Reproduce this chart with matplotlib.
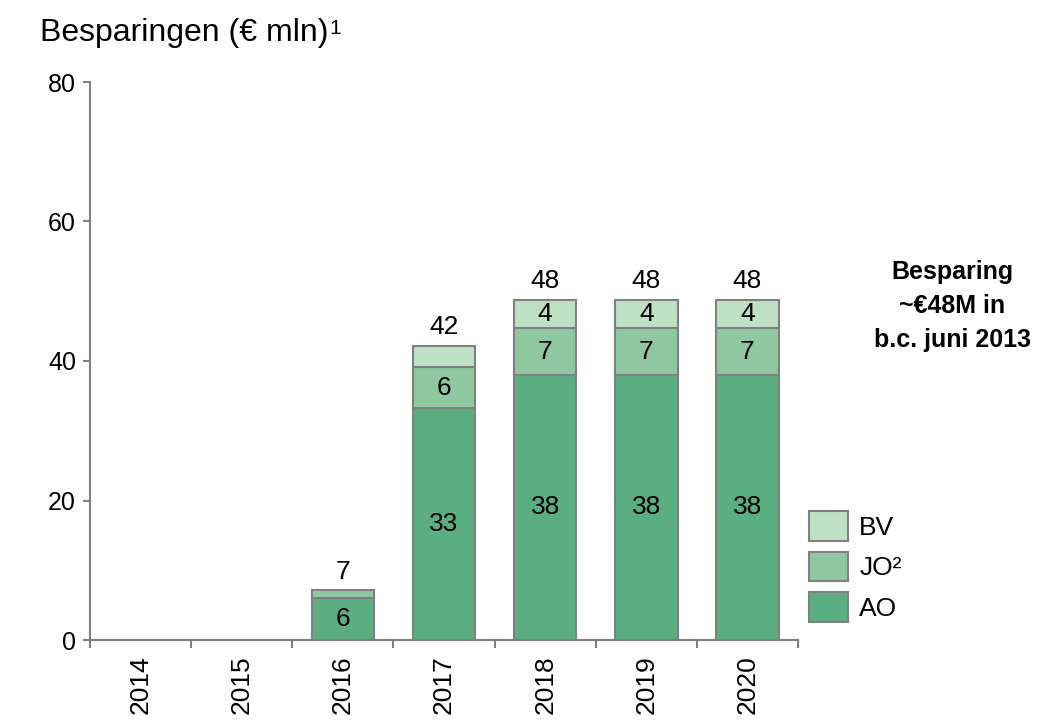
import numpy as np
import matplotlib
matplotlib.use("Agg")
import matplotlib.pyplot as plt
from matplotlib.patches import Patch

plt.rcParams["font.family"] = ["Liberation Sans", "DejaVu Sans"]

# ------------------------------------------
# Data
# ------------------------------------------
years = ["2014", "2015", "2016", "2017", "2018", "2019", "2020"]
ao = [0, 0, 6.0, 33.2, 38.0, 38.0, 38.0]
jo = [0, 0, 1.1, 6.0, 6.7, 6.7, 6.7]
bv = [0, 0, 0.0, 2.9, 4.0, 4.0, 4.0]

ao_labels = ["", "", "6", "33", "38", "38", "38"]
jo_labels = ["", "", "", "6", "7", "7", "7"]
bv_labels = ["", "", "", "", "4", "4", "4"]
total_labels = ["", "", "7", "42", "48", "48", "48"]

c_ao = "#5bae82"
c_jo = "#8fc8a0"
c_bv = "#bee0c5"
edge = "#808080"

# ------------------------------------------
# Plot
# ------------------------------------------
fig = plt.figure(figsize=(10.41, 7.28), dpi=100)
ax = fig.add_axes([90 / 1041, 1 - 640 / 728, (798 - 90) / 1041, (640 - 82) / 728])

x = np.arange(len(years))
ao = np.array(ao)
jo = np.array(jo)
bv = np.array(bv)
w = 0.62

b_ao = ax.bar(x, ao, w, color=c_ao, edgecolor=edge, linewidth=1.5)
b_jo = ax.bar(x, jo, w, bottom=ao, color=c_jo, edgecolor=edge, linewidth=1.5)
b_bv = ax.bar(x, bv, w, bottom=ao + jo, color=c_bv, edgecolor=edge, linewidth=1.5)

# hide empty bars
for bars, vals in [(b_ao, ao), (b_jo, jo), (b_bv, bv)]:
    for rect, v in zip(bars, vals):
        if v == 0:
            rect.set_visible(False)

fs = 19
for i in range(len(years)):
    if ao_labels[i]:
        ax.text(x[i], ao[i] / 2, ao_labels[i], ha="center", va="center", fontsize=fs)
    if jo_labels[i]:
        ax.text(x[i], ao[i] + jo[i] / 2, jo_labels[i], ha="center", va="center", fontsize=fs)
    if bv_labels[i]:
        ax.text(x[i], ao[i] + jo[i] + bv[i] / 2, bv_labels[i], ha="center", va="center", fontsize=fs)
    if total_labels[i]:
        ax.text(x[i], ao[i] + jo[i] + bv[i] + 1.0, total_labels[i], ha="center", va="bottom", fontsize=fs)

ax.set_xlim(-0.5, len(years) - 0.5)
ax.set_ylim(0, 80)
ax.set_yticks([0, 20, 40, 60, 80])

ax.set_xticks(np.arange(len(years) + 1) - 0.5)
ax.set_xticklabels([])
ax.set_xticks(x, minor=True)
ax.set_xticklabels(years, minor=True, rotation=90, fontsize=fs)
ax.tick_params(axis="x", which="minor", length=0, pad=11)
ax.tick_params(axis="x", which="major", length=5.5, color=edge, width=1.5, direction="out")
ax.tick_params(axis="y", length=5, color=edge, width=1.5, labelsize=18, pad=5)

for s in ["top", "right"]:
    ax.spines[s].set_visible(False)
for s in ["left", "bottom"]:
    ax.spines[s].set_color(edge)
    ax.spines[s].set_linewidth(1.5)

# title with a superscript footnote mark
title = fig.text(40 / 1041, 1 - 33 / 728, "Besparingen (€ mln)", fontsize=23, ha="left", va="center")
ax.annotate("1", xy=(1, 1), xycoords=title, xytext=(0.5, -1), textcoords="offset points",
            fontsize=15, ha="left", va="top", annotation_clip=False)

fig.text(952 / 1041, 1 - 306 / 728, "Besparing\n~€48M in\nb.c. juni 2013",
         fontsize=18, fontweight="bold", ha="center", va="center", linespacing=1.55)

handles = [Patch(facecolor=c_bv, edgecolor=edge, linewidth=1.5),
           Patch(facecolor=c_jo, edgecolor=edge, linewidth=1.5),
           Patch(facecolor=c_ao, edgecolor=edge, linewidth=1.5)]
leg = fig.legend(handles, ["BV", "JO²", "AO"], loc="upper left",
                 bbox_to_anchor=(809 / 1041, 1 - 511 / 728), frameon=False,
                 fontsize=fs, handlelength=1.48, handleheight=1.35,
                 labelspacing=0.42, handletextpad=0.42, borderpad=0, borderaxespad=0)

fig.savefig("out.png", dpi=100)
